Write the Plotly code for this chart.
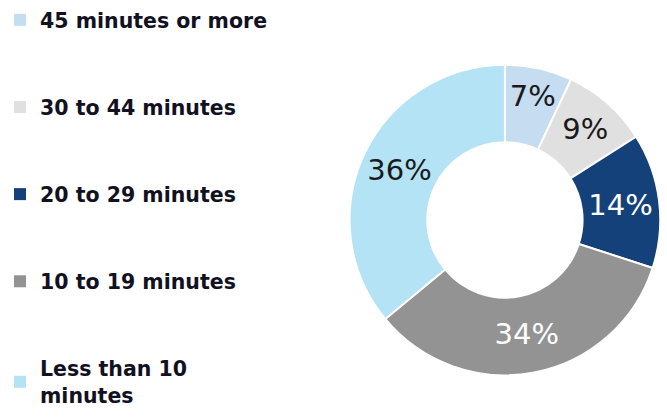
import plotly.graph_objects as go

# Commute time categories and shares (%)
categories = ["45 minutes or more", "30 to 44 minutes", "20 to 29 minutes",
              "10 to 19 minutes", "Less than 10<br>minutes"]
shares = [7, 9, 14, 34, 36]
colors = ["#c6dcf0", "#e0e0e0", "#15417a", "#939393", "#b3e3f5"]
label_colors = ["#1a1a1a", "#1a1a1a", "#ffffff", "#ffffff", "#1a1a1a"]

fig = go.Figure()

fig.add_trace(go.Pie(
    labels=categories,
    values=shares,
    sort=False,
    direction="clockwise",
    rotation=0,
    hole=0.5,
    marker=dict(colors=colors, line=dict(color="#ffffff", width=2)),
    texttemplate="%{value}%",
    textposition="inside",
    insidetextorientation="horizontal",
    textfont=dict(family="DejaVu Sans", size=29, color=label_colors),
    showlegend=False,
    domain=dict(x=[0.52, 0.994], y=[0.1, 0.845]),
))

# Legend entries drawn with invisible marker traces so the gap between items can be set
for i, (name, col) in enumerate(zip(categories, colors)):
    fig.add_trace(go.Scatter(
        x=[None], y=[None], mode="markers", name=name,
        marker=dict(symbol="square", size=12, color=col),
        legendgroup=f"g{i}", showlegend=True,
    ))

fig.update_layout(
    width=667, height=417,
    margin=dict(l=0, r=0, t=0, b=0),
    paper_bgcolor="#ffffff",
    plot_bgcolor="#ffffff",
    xaxis=dict(visible=False),
    yaxis=dict(visible=False),
    uniformtext=dict(minsize=29, mode="show"),
    legend=dict(
        x=0.0, y=1.0, xanchor="left", yanchor="top",
        font=dict(family="DejaVu Sans", size=20.5, color="#111122", weight="bold"),
        tracegroupgap=57.5,
        itemwidth=30,
        maxheight=1.0,
        bgcolor="rgba(0,0,0,0)",
    ),
)

fig.write_html("out.html")
